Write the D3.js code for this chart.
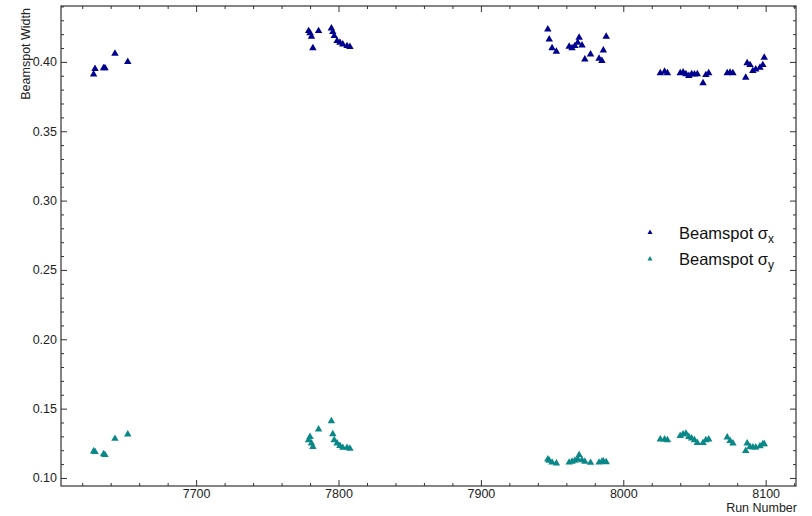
<!DOCTYPE html>
<html>
<head>
<meta charset="utf-8">
<script src="https://cdn.jsdelivr.net/npm/d3@7"></script>
<style>
  html, body { margin: 0; padding: 0; background: #fff; }
  svg { display: block; font-family: "Liberation Sans", Arial, Helvetica, sans-serif; }
  .tick text { fill: #222; }
</style>
</head>
<body>
<svg id="chart" width="812" height="516"></svg>
<script>
// Run numbers of the measured fills
const runs = [
  7628, 7629, 7635, 7636, 7643, 7652,
  7779, 7780, 7781, 7782, 7786, 7795, 7796, 7797, 7799, 7801, 7803, 7806, 7808,
  7947, 7948, 7950, 7953, 7962, 7964, 7966, 7968, 7969, 7971, 7973, 7977, 7983, 7985, 7986, 7988,
  8026, 8029, 8031, 8040, 8042, 8044, 8046, 8048, 8050, 8052, 8056, 8058, 8060,
  8073, 8075, 8077, 8086, 8087, 8089, 8091, 8093, 8096, 8098, 8099
];

// Fitted beamspot width in x for each run
const sigmaX = [
  0.391, 0.395, 0.3955, 0.3955, 0.406, 0.400,
  0.4223, 0.4207, 0.4182, 0.4099, 0.4223, 0.4242, 0.4216, 0.4187, 0.4151, 0.4139, 0.4127, 0.4115, 0.4108,
  0.4235, 0.4163, 0.4099, 0.4074, 0.4110, 0.4099, 0.4115, 0.4139, 0.4175, 0.4120, 0.4019, 0.4055, 0.4024, 0.4007, 0.4084, 0.4182,
  0.3919, 0.3930, 0.3919, 0.3919, 0.3925, 0.3912, 0.3899, 0.3912, 0.3910, 0.3912, 0.3847, 0.3906, 0.3919,
  0.3919, 0.3923, 0.3919, 0.3887, 0.3991, 0.3978, 0.3935, 0.3947, 0.3959, 0.3978, 0.4031
];

// Fitted beamspot width in y for each run
const sigmaY = [
  0.1192, 0.1188, 0.1172, 0.1166, 0.1283, 0.1314,
  0.1273, 0.1297, 0.1250, 0.1225, 0.1350, 0.1410, 0.1317, 0.1273, 0.1250, 0.1232, 0.1218, 0.1218, 0.1212,
  0.1135, 0.1125, 0.1112, 0.1106, 0.1112, 0.1118, 0.1125, 0.1135, 0.1165, 0.1128, 0.1118, 0.1110, 0.1112, 0.1118, 0.1120, 0.1115,
  0.1278, 0.1278, 0.1273, 0.1304, 0.1314, 0.1321, 0.1297, 0.1286, 0.1273, 0.1254, 0.1254, 0.1273, 0.1278,
  0.1293, 0.1268, 0.1250, 0.1196, 0.1250, 0.1225, 0.1221, 0.1221, 0.1230, 0.1245, 0.1245
];

const xTicks = [7700, 7800, 7900, 8000, 8100];
const yTicks = [0.10, 0.15, 0.20, 0.25, 0.30, 0.35, 0.40];
const seriesNames = ["x", "y"];
const seriesColors = ["#00008f", "#0a8888"];

const W = 812, H = 516;
const margin = { top: 6, right: 16, bottom: 30, left: 61 };
const iw = W - margin.left - margin.right;
const ih = H - margin.top - margin.bottom;

const svg = d3.select("#chart");
const g = svg.append("g").attr("transform", `translate(${margin.left},${margin.top})`);

const x = d3.scaleLinear().domain([7605.1, 8121.3]).range([0, iw]);
const y = d3.scaleLinear().domain([0.0942, 0.4403]).range([ih, 0]);

const xMinor = d3.range(7620, 8121, 20).filter(v => v % 100 !== 0);
const yMinor = d3.range(10, 45).map(v => v / 100).filter(v => Math.round(v * 100) % 5 !== 0);

const axisColor = "#333";
const tickFont = "12.5px";

function styleAxis(sel) {
  sel.select(".domain").remove();
  sel.selectAll(".tick line").attr("stroke", axisColor);
  sel.selectAll(".tick text").style("font-size", tickFont);
}

// bottom axis: major with labels, minor without
g.append("g").attr("transform", `translate(0,${ih})`)
  .call(d3.axisBottom(x).tickValues(xTicks).tickFormat(d3.format("d")).tickSize(-6).tickPadding(3))
  .call(styleAxis);
g.append("g").attr("transform", `translate(0,${ih})`)
  .call(d3.axisBottom(x).tickValues(xMinor).tickFormat("").tickSize(-3))
  .call(styleAxis);
// top mirror ticks
g.append("g")
  .call(d3.axisTop(x).tickValues(xTicks).tickFormat("").tickSize(-6))
  .call(styleAxis);
g.append("g")
  .call(d3.axisTop(x).tickValues(xMinor).tickFormat("").tickSize(-3))
  .call(styleAxis);

// left axis
g.append("g")
  .call(d3.axisLeft(y).tickValues(yTicks).tickFormat(d3.format(".2f")).tickSize(-6).tickPadding(4))
  .call(styleAxis);
g.append("g")
  .call(d3.axisLeft(y).tickValues(yMinor).tickFormat("").tickSize(-3))
  .call(styleAxis);
// right mirror ticks
g.append("g").attr("transform", `translate(${iw},0)`)
  .call(d3.axisRight(y).tickValues(yTicks).tickFormat("").tickSize(-6))
  .call(styleAxis);
g.append("g").attr("transform", `translate(${iw},0)`)
  .call(d3.axisRight(y).tickValues(yMinor).tickFormat("").tickSize(-3))
  .call(styleAxis);

// frame
g.append("rect")
  .attr("width", iw).attr("height", ih)
  .attr("fill", "none").attr("stroke", axisColor).attr("stroke-width", 1.2);

// axis titles
svg.append("text")
  .attr("transform", `translate(29.5,8) rotate(-90)`)
  .attr("text-anchor", "end")
  .style("font-size", "12.5px").attr("fill", "#222")
  .text("Beamspot Width");

svg.append("text")
  .attr("x", 797).attr("y", 511.5)
  .attr("text-anchor", "end")
  .style("font-size", "12.5px").attr("fill", "#222")
  .text("Run Number");

// markers
const tri = d3.symbol().type(d3.symbolTriangle).size(24);
const series = [sigmaX, sigmaY];
series.forEach((vals, si) => {
  g.append("g").selectAll("path")
    .data(runs.map((r, i) => [r, vals[i]]))
    .join("path")
    .attr("d", tri)
    .attr("transform", d => `translate(${x(d[0])},${y(d[1])})`)
    .attr("fill", seriesColors[si]);
});

// legend
const legend = svg.append("g");
seriesNames.forEach((name, i) => {
  const cy = 232.5 + i * 26.5;
  legend.append("path")
    .attr("d", d3.symbol().type(d3.symbolTriangle).size(11)())
    .attr("transform", `translate(650,${cy})`)
    .attr("fill", seriesColors[i]);
  const t = legend.append("text")
    .attr("x", 679).attr("y", cy + 6)
    .style("font-size", "16.5px").attr("fill", "#111");
  t.append("tspan").text("Beamspot σ");
  t.append("tspan").attr("dy", 4).style("font-size", "12px").text(name);
});
</script>
</body>
</html>
